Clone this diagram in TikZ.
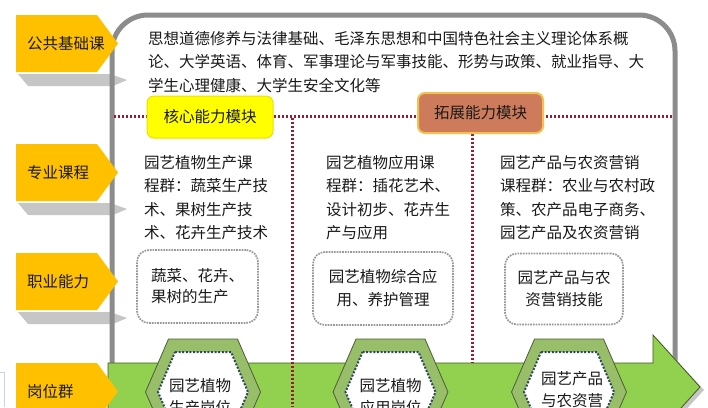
\documentclass[tikz,border=0pt]{standalone}
\usepackage{fontspec}
\setmainfont{Noto Sans CJK SC}
\definecolor{labc}{HTML}{FFC000}
\definecolor{shc}{HTML}{C6C6C6}
\definecolor{boxline}{HTML}{8C8C8C}
\definecolor{redd}{HTML}{9B1B30}
\definecolor{txtc}{HTML}{1A1A1A}
\definecolor{yel}{HTML}{FFFF00}
\definecolor{yelb}{HTML}{EDE000}
\definecolor{brn}{HTML}{CD7B5A}
\definecolor{brnb}{HTML}{F2C14E}
\definecolor{grn}{HTML}{92D050}
\definecolor{grnb}{HTML}{3E5A1E}
\definecolor{hexg}{HTML}{98BE6A}
\definecolor{hexb}{HTML}{4D5D3A}
\definecolor{hexin}{HTML}{2E4A5A}
\begin{document}
\begin{tikzpicture}[x=1pt,y=-1pt,
  txt/.style={font=\fontsize{15.5}{23.5}\selectfont, text=txtc, inner sep=0pt, align=left},
  labtxt/.style={font=\fontsize{15.5}{18}\selectfont, text=txtc, inner sep=0pt, anchor=west},
  labshape/.style={fill=labc, draw=none},
  shadowshape/.style={fill=shc, draw=none},
  sep/.style={draw=redd, line width=3pt, dash pattern=on 2.4pt off 1.6pt},
  modbox/.style={rounded corners=7pt, font=\fontsize{15.5}{18}\selectfont, text=txtc, inner sep=0pt},
  dbox/.style={draw=gray!80, fill=white, densely dotted, line width=1.7pt, rounded corners=12pt, inner sep=0pt, font=\fontsize{15.5}{22}\selectfont, text=txtc},
  hexout/.style={fill=hexg, draw=hexb, line width=0.8pt},
  hexinner/.style={fill=white, draw=hexin, line width=2pt, dash pattern=on 2pt off 1.6pt},
  hextxt/.style={font=\fontsize{15.5}{22}\selectfont, text=txtc, inner sep=0pt, align=center, anchor=north}
]
\useasboundingbox (0,0) rectangle (708,407);
\fill[white] (0,0) rectangle (708,407);
\begin{scope}
\clip (0,0) rectangle (708,407);

% faint mark at left
\draw[gray!35, line width=0.6pt] (0,372) -- (4,372) -- (4,407);

% shadows under labels
\foreach \b in {72,201,310}{
  \fill[shadowshape] (18,\b+2) -- (110,\b+2) -- (127,\b+8) -- (113,\b+14) -- (28,\b+14) -- cycle;
}

% big frame
\draw[boxline, line width=5pt, rounded corners=36pt] (112,420) -- (112,15) -- (675,15) -- (675,420);

% top text
\node[txt, anchor=north west] (pub) at (148,31) {思想道德修养与法律基础、毛泽东思想和中国特色社会主义理论体系概\\论、大学英语、体育、军事理论与军事技能、形势与政策、就业指导、大\\学生心理健康、大学生安全文化等};

% separators
\draw[sep] (114,116) -- (673,116);
\draw[sep] (472,134) -- (472,367);

% module boxes
\node[modbox, fill=yel, draw=yelb, line width=1pt, minimum width=126pt, minimum height=42pt] (core) at (210,117) {核心能力模块};
\node[modbox, fill=brn, draw=brnb, line width=2pt, minimum width=125pt, minimum height=40pt] (ext) at (480.5,113) {拓展能力模块};

% column texts
\node[txt, anchor=north west] (c1) at (144,155) {园艺植物生产课\\程群：蔬菜生产技\\术、果树生产技\\术、花卉生产技术};
\node[txt, anchor=north west] (c2) at (326,155) {园艺植物应用课\\程群：插花艺术、\\设计初步、花卉生\\产与应用};
\node[txt, anchor=north west] (c3) at (500,155) {园艺产品与农资营销\\课程群：农业与农村政\\策、农产品电子商务、\\园艺产品及农资营销};

% ability boxes
\node[dbox, minimum width=121pt, minimum height=73pt, align=left, font=\fontsize{15.5}{21}\selectfont] (b1) at (197.5,286.5) {蔬菜、花卉、\\果树的生产};
\node[dbox, minimum width=140pt, minimum height=73pt, align=center, font=\fontsize{15.5}{23}\selectfont] (b2) at (383,288.5) {园艺植物综合应\\用、养护管理};
\node[dbox, minimum width=118pt, minimum height=71pt, align=center, font=\fontsize{15.5}{22}\selectfont] (b3) at (564,289) {园艺产品与农\\资营销技能};

% green arrow band
\fill[gray!45] (656,338) -- (704,390) -- (656,442) -- cycle;
\draw[fill=grn, draw=grnb, line width=0.8pt] (108,363) -- (653,363) -- (653,335) -- (700,387) -- (653,439) -- (653,411) -- (108,411) -- cycle;

% vertical separator 1 (over band)
\draw[sep] (292,118) -- (292,407);

% hexagons
\foreach \cx/\nm in {203/h1,390.5/h2,569/h3}{
  \draw[hexout] (\cx-34.5,339) -- (\cx+34.5,339) -- (\cx+57.5,392) -- (\cx+34.5,445) -- (\cx-34.5,445) -- (\cx-57.5,392) -- cycle;
  \draw[hexinner] (\cx-28,352) -- (\cx+28,352) -- (\cx+45,392) -- (\cx+28,432) -- (\cx-28,432) -- (\cx-45,392) -- cycle;
}
\node[hextxt] (t1) at (200,378) {园艺植物\\生产岗位};
\node[hextxt] (t2) at (390.5,378) {园艺植物\\应用岗位};
\node[hextxt] (t3) at (572,371) {园艺产品\\与农资营\\销岗位};

% labels
\foreach \t/\nm/\s in {15/公共基础课/l1,144/专业课程/l2,253/职业能力/l3,363/岗位群/l4}{
  \fill[labshape] (16,\t) -- (97,\t) -- (118,\t+28.5) -- (97,\t+57) -- (16,\t+57) -- cycle;
  \node[labtxt] (\s) at (27,\t+28.5) {\nm};
}
\end{scope}
\end{tikzpicture}
\end{document}
